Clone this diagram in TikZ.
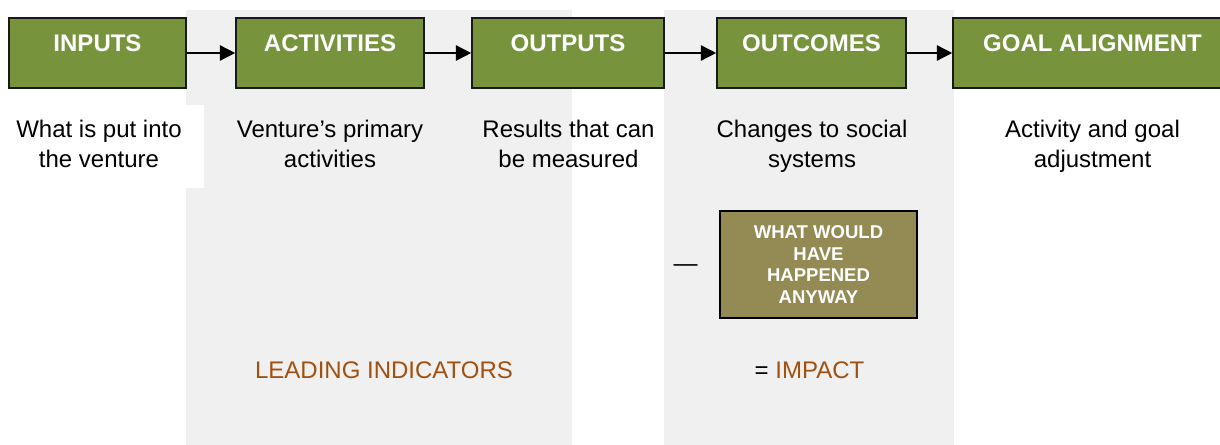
\documentclass[tikz,border=0pt]{standalone}
\usepackage{fontspec}
\setmainfont{Liberation Sans}
\usepackage{xcolor}
\usetikzlibrary{arrows.meta,positioning}

\definecolor{stagegreen}{HTML}{77933C}
\definecolor{shadegrey}{HTML}{F0F0F0}
\definecolor{tanbox}{HTML}{948A54}
\definecolor{leadbrown}{HTML}{A0500F}

\begin{document}
\begin{tikzpicture}[
        x=0.75pt, y=-0.75pt,
        stage/.style={draw=black!90,line width=1.2pt,fill=stagegreen,text=white,
          font=\fontsize{18}{22}\selectfont\bfseries,minimum height=52.5pt,
          text height=13pt,text depth=14.5pt,inner sep=0pt},
        note/.style={align=center,anchor=base,font=\fontsize{18}{22.5}\selectfont},
        flow/.style={-{Triangle[length=11.5pt,width=11.5pt]},line width=1.1pt}]
        \useasboundingbox (0,0) rectangle (1220,445);
        \fill[shadegrey] (186,10) rectangle (572,445);
        \fill[shadegrey] (664,10) rectangle (954,445);
        \fill[white] (186,105) rectangle (204,188);

        \node[stage,minimum width=132.75pt] (inputs) at (97.5,53) {INPUTS};
        \node[stage,minimum width=141pt] (activities) at (330,53) {ACTIVITIES};
        \node[stage,minimum width=144pt] (outputs) at (568,53) {OUTPUTS};
        \node[stage,minimum width=141.75pt] (outcomes) at (811.5,53) {OUTCOMES};
        \node[stage,minimum width=209.25pt] (goal) at (1092.5,53) {GOAL ALIGNMENT};

        \draw[flow] (inputs) -- (activities);
        \draw[flow] (activities) -- (outputs);
        \draw[flow] (outputs) -- (outcomes);
        \draw[flow] (outcomes) -- (goal);

        % base of a two-line note is its second line
        \node[note] (inputsnote) at (99,168) {What is put into\\the venture};
        \node[note] (activitiesnote) at (330,168) {Venture’s primary\\activities};
        \node[note] (outputsnote) at (568.5,168) {Results that can\\be measured};
        \node[note] (outcomesnote) at (812,168) {Changes to social\\systems};
        \node[note] (goalnote) at (1092.5,168) {Activity and goal\\adjustment};

        % counterfactual term under the outcomes column
        \node[font=\fontsize{18}{22}\selectfont,anchor=base] (minus) at (685.5,271.6) {—};
        \node[draw=black,line width=1.2pt,fill=tanbox,text=white,align=center,
          font=\fontsize{13.9}{16.1}\selectfont\bfseries,
          minimum width=147.75pt,minimum height=80.25pt] (anyway) at (818.5,264.5)
          {WHAT WOULD\\HAVE\\HAPPENED\\ANYWAY};

        \node[note,text=leadbrown] (leading) at (384,378) {LEADING INDICATORS};
        \node[note] (impact) at (809.5,378) {= \textcolor{leadbrown}{IMPACT}};
      \end{tikzpicture}
\end{document}
